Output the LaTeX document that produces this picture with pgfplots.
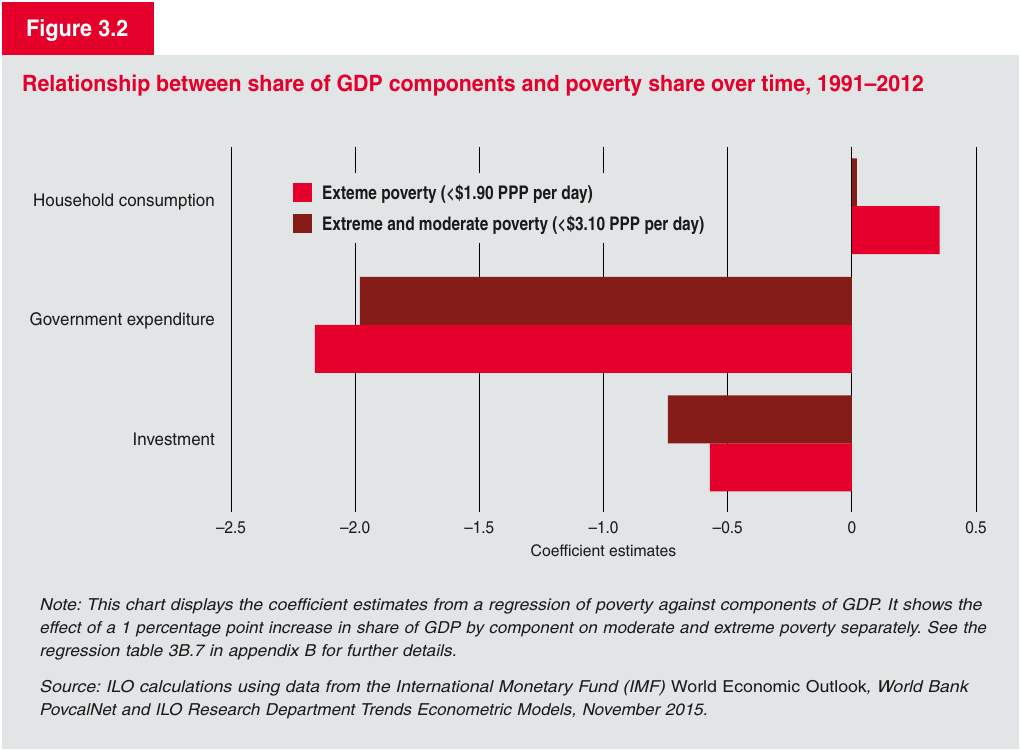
\documentclass[border=0pt]{standalone}
\usepackage{pgfplots}
\pgfplotsset{compat=1.18}
\usepackage{fontspec}
\setmainfont{texgyreheroscn}[Extension=.otf, UprightFont=*-regular, BoldFont=*-bold, ItalicFont=*-italic, BoldItalicFont=*-bolditalic]
\definecolor{ilored}{HTML}{E4002B}
\definecolor{ilodark}{HTML}{861C17}
\definecolor{panel}{HTML}{E1E5E6}
\definecolor{txt}{HTML}{1A1A1A}
\newcommand{\fs}[3]{\fontsize{#1}{#2}\selectfont\addfontfeature{FakeStretch=#3}}
\newcommand{\nl}[1]{\itshape\fs{16.5}{23}{#1}}
\frenchspacing
\begin{document}
\frenchspacing
\begin{tikzpicture}[x=1pt,y=1pt]
\fill[white] (0,0) rectangle (1021,751);
\fill[panel] (2,2) rectangle (1019,696);
\fill[ilored] (2,696) rectangle (154,749);
\node[anchor=base west, inner sep=0pt, text=white, font=\bfseries\fs{23}{26}{1.146}] at (26,714) {Figure 3.2};
\node[anchor=base west, inner sep=0pt, text=ilored, font=\bfseries\fs{22.5}{26}{1.157}] at (22,659) {Relationship between share of GDP components and poverty share over time, 1991--2012};
\begin{axis}[
  at={(231pt,239pt)}, anchor=south west,
  width=745pt, height=365pt, scale only axis,
  xmin=-2.5, xmax=0.5, ymin=-0.5, ymax=2.58,
  y dir=reverse,
  axis line style={draw=none},
  major tick length=0pt,
  xmajorgrids, ymajorgrids=false,
  grid style={black, line width=0.9pt},
  xtick={-2.5,-2,-1.5,-1,-0.5,0,0.5},
  xticklabels={–2.5,–2.0,–1.5,–1.0,–0.5,0,0.5},
  ytick={0,1,2},
  yticklabels={Household consumption,Government expenditure,Investment},
  xticklabel style={inner sep=0pt, anchor=north, yshift=-9pt, font=\fs{17}{20}{1.1}, text=txt},
  yticklabel style={inner sep=0pt, anchor=east, xshift=-16pt, yshift=4pt, font=\fs{17.5}{20}{1.18}, text=txt},
  xlabel={Coefficient estimates},
  xlabel style={at={(axis description cs:0.5,0)}, anchor=north, inner sep=0pt, yshift=-33pt, font=\fs{16}{19}{1.2}, text=txt},
  legend style={at={(rel axis cs:0.0698,0.929)}, anchor=north west, draw=none, fill=panel,
    font=\bfseries\fontsize{18.8}{22}\selectfont, text=txt, row sep=12pt, inner sep=10pt,
    nodes={inner sep=0pt},
    /tikz/every odd column/.append style={column sep=10pt}},
  legend cell align=left,
  legend image code/.code={\fill[#1] (0pt,-9pt) rectangle (19pt,10pt);},
]
\addplot[xbar, bar width=0.405, bar shift=0.2025, fill=ilored, draw=none]
  coordinates {(0.354,0) (-2.162,1) (-0.572,2)};
\addlegendentry{Exteme poverty (<\$1.90 PPP per day)}
\addplot[xbar, bar width=0.405, bar shift=-0.2025, fill=ilodark, draw=none]
  coordinates {(0.02,0) (-1.981,1) (-0.741,2)};
\addlegendentry{Extreme and moderate poverty (<\$3.10 PPP per day)}
\end{axis}
\node[anchor=north west, inner sep=0pt, text width=975pt, align=left, font=\nl{1.28}, text=txt] at (40,153) {{\nl{1.30}Note: This chart displays the coefficient estimates from a regression of poverty against components of GDP. It shows the}\\ {\nl{1.255}effect of a 1 percentage point increase in share of GDP by component on moderate and extreme poverty separately. See the}\\ {\nl{1.28}regression table 3B.7 in appendix B for further details.}\\[13pt]
{\nl{1.31}Source: ILO calculations using data from the International Monetary Fund (IMF) {\upshape World Economic Outlook}, World Bank}\\ {\nl{1.26}PovcalNet and ILO Research Department Trends Econometric Models, November 2015.}};
\end{tikzpicture}
\end{document}
